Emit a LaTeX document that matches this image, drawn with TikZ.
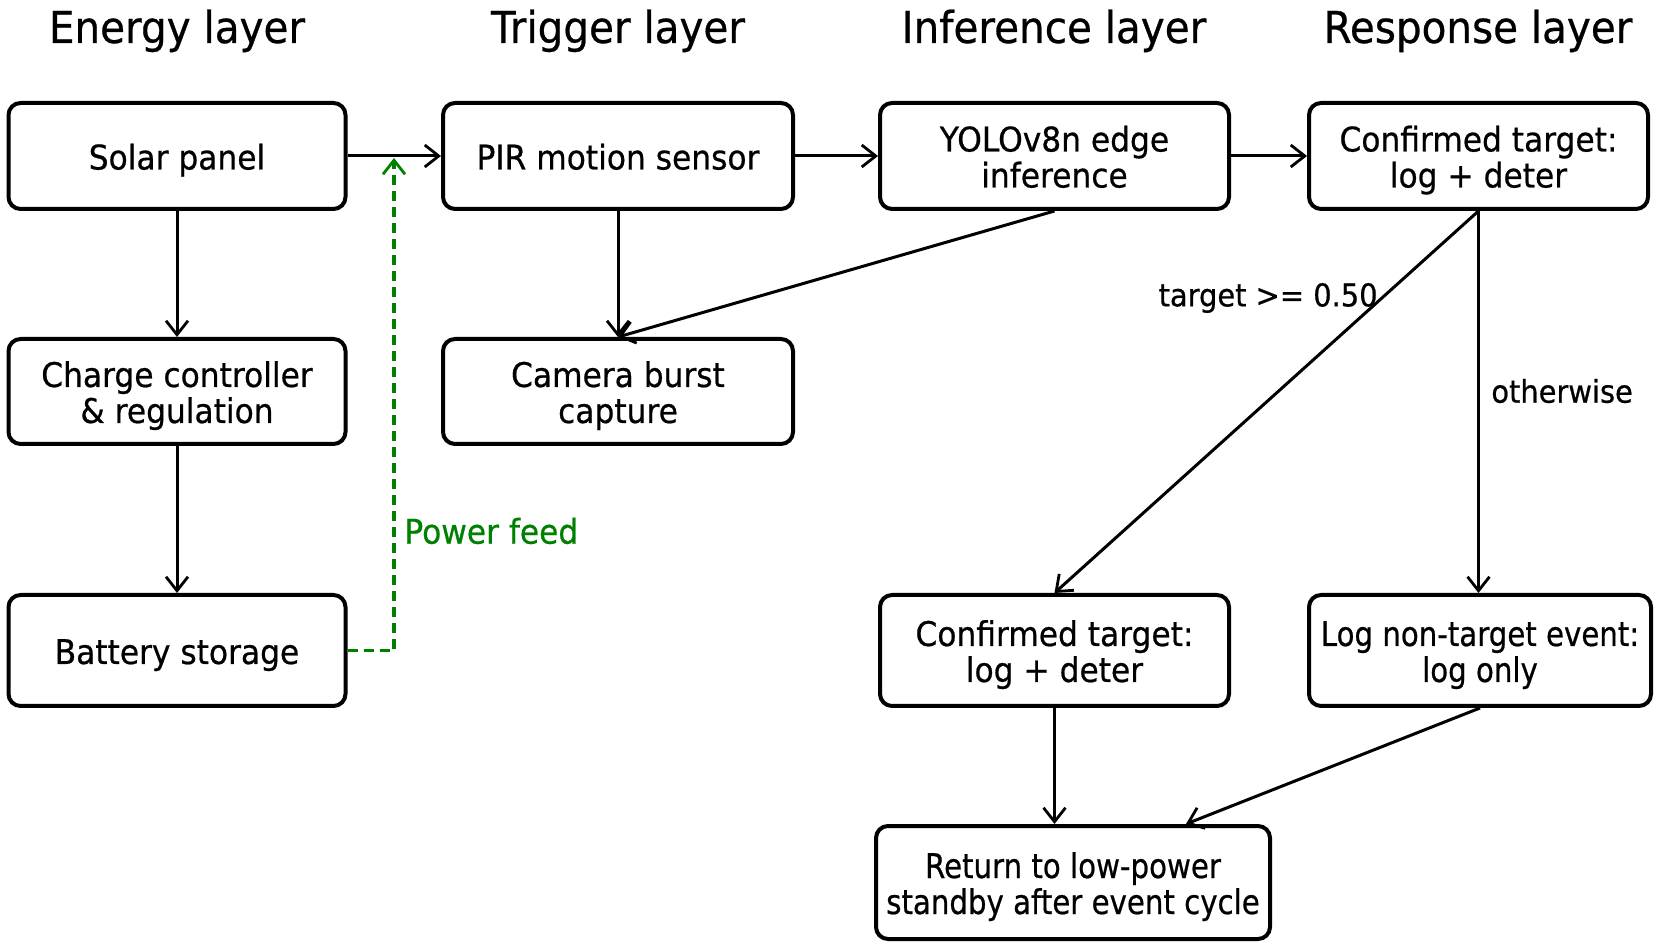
\documentclass[tikz,border=0pt]{standalone}
\usepackage{fontspec}
\setmainfont{DejaVu Sans}[FakeStretch=0.92,FakeBold=0.6]
\newfontfamily\narrowfont{DejaVu Sans}[FakeStretch=0.86,FakeBold=0.6]
\usetikzlibrary{arrows.meta,calc}
\definecolor{pgreen}{RGB}{0,128,0}
\newcommand\bt{\rule{0pt}{17.6pt}}
\newcommand\bb{\rule[-4.1pt]{0pt}{0pt}}
\begin{document}
\begin{tikzpicture}[x=0.5pt,y=-0.5pt,
  box/.style={draw,line width=2pt,rounded corners=6pt,align=center,
    font=\fontsize{17}{18}\selectfont,inner sep=2pt},
  conn/.style={line width=1.5pt,-{Straight Barb[length=7pt,width=11pt,line width=1.4pt]}},
  hdr/.style={font=\fontsize{22}{26}\selectfont,anchor=base},
  lbl/.style={font=\fontsize{15.7}{18}\selectfont,inner sep=0pt},
  feed/.style={line width=1.6pt,pgreen,dash pattern=on 5pt off 3pt,
    -{Straight Barb[length=7pt,width=11pt,line width=1.4pt]}},
]
\useasboundingbox (0,0) rectangle (1665,945);

% headers
\node[hdr] (h1) at (177,43) {Energy layer};
\node[hdr] (h2) at (618,43) {Trigger layer};
\node[hdr] (h3) at (1054,43) {Inference layer};
\node[hdr] (h4) at (1478,43) {Response layer};

% energy layer
\node[box,minimum width=168.5pt,minimum height=53pt] (solar) at (177,156) {\bt Solar panel\bb};
\node[box,minimum width=168.5pt,minimum height=52.5pt] (charge) at (177,391.5) {\bt Charge controller\\\& regulation\bb};
\node[box,minimum width=168.5pt,minimum height=55.5pt] (batt) at (177,650.5) {\bt Battery storage\bb};

% trigger layer
\node[box,minimum width=175pt,minimum height=53pt] (pir) at (618,156) {\bt PIR motion sensor\bb};
\node[box,minimum width=175pt,minimum height=52.5pt] (cam) at (618,391.5) {\bt Camera burst\\capture\bb};

% inference layer
\node[box,minimum width=174.5pt,minimum height=53pt] (yolo) at (1054.5,156) {\bt YOLOv8n edge\\inference\bb};
\node[box,minimum width=174.5pt,minimum height=55.5pt] (conf2) at (1054.5,650.5) {\bt Confirmed target:\\log + deter\bb};
\node[box,minimum width=197pt,minimum height=56.5pt] (ret) at (1073,882.5) {\narrowfont\bt Return to low-power\\\narrowfont standby after event cycle\bb};

% response layer
\node[box,minimum width=169.5pt,minimum height=53pt] (conf1) at (1478.5,156) {\bt Confirmed target:\\log + deter\bb};
\node[box,minimum width=171pt,minimum height=55.5pt] (lognt) at (1480,650.5) {\narrowfont\bt Log non-target event:\\\narrowfont log only\bb};

% connectors
\draw[conn] (solar) -- (pir);
\draw[conn] (solar) -- (charge);
\draw[conn] (charge) -- (batt);
\draw[conn] (pir) -- (cam);
\draw[conn] (yolo.south) -- (cam.north);
\draw[conn] (pir) -- (yolo);
\draw[conn] (yolo) -- (conf1);
\draw[conn] (conf1.south) -- (conf2.north);
\draw[conn] (conf1.south) -- (conf1.south |- lognt.north);
\draw[conn] (conf2.south) -- (conf2.south |- ret.north);
\draw[conn] (lognt.south) -- ($(ret.north)+(113,0)$);

% power feed
\coordinate (pf) at (394,158);
\draw[feed] (batt.east) -| (pf);
\node[anchor=west,text=pgreen,font=\fontsize{17}{18}\selectfont,inner sep=0pt] (pfl) at (404,531) {Power feed};

% labels
\node[lbl,anchor=east] (lt) at (1378,298) {target >= 0.50};
\node[lbl,anchor=west] (lo) at (1491,391) {otherwise};
\end{tikzpicture}
\end{document}
